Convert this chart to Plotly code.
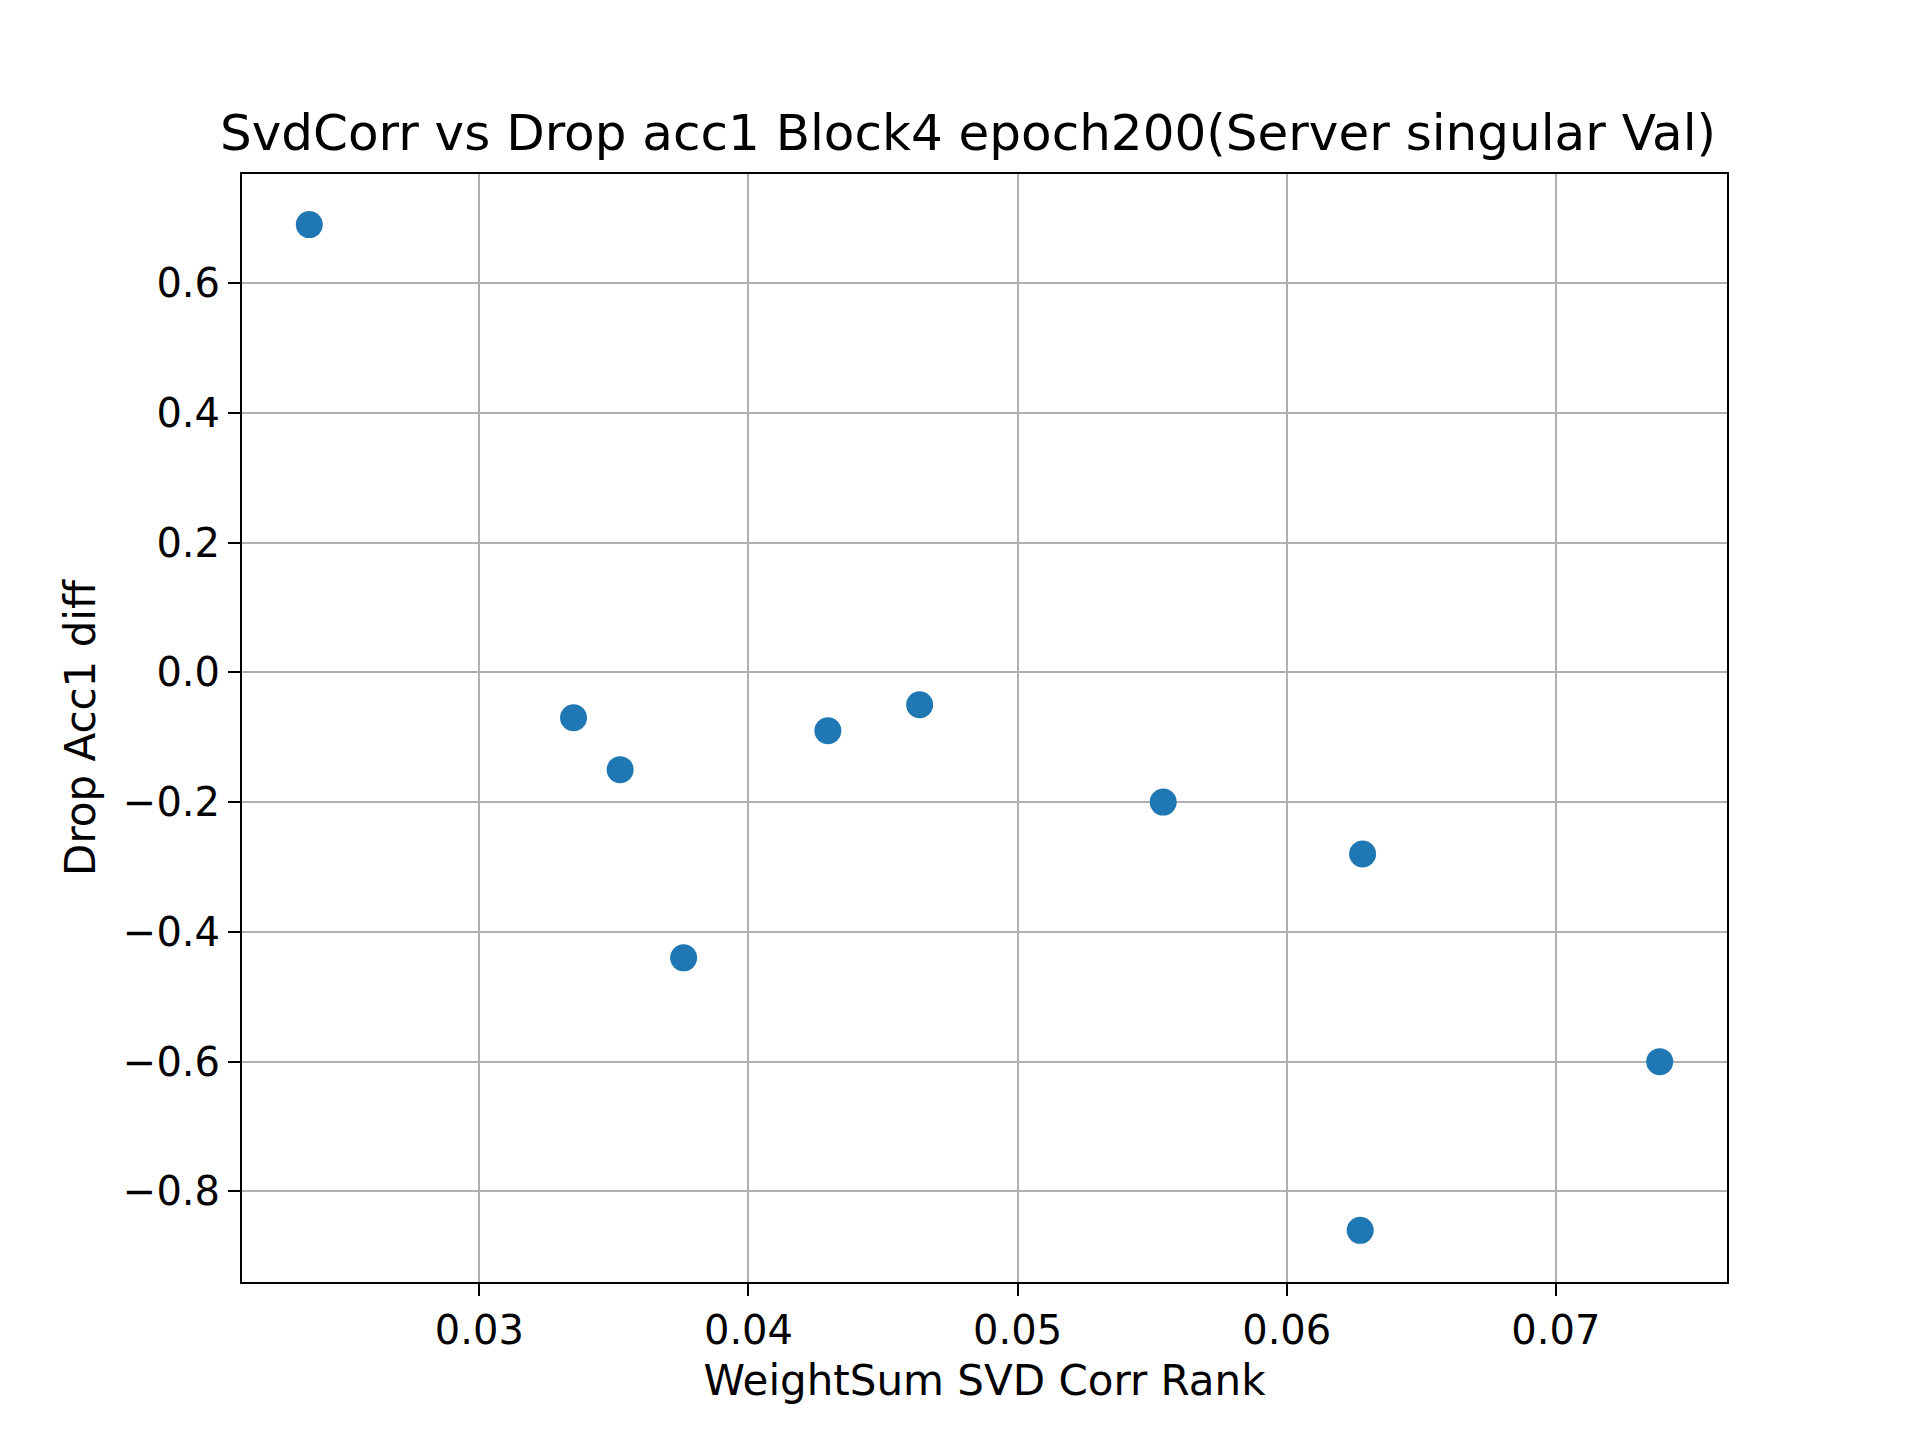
import plotly.graph_objects as go

# values
svd_corr_rank = [0.02368, 0.0335, 0.03523, 0.03759, 0.04295, 0.04636, 0.05541, 0.06282, 0.06273, 0.07386]
drop_acc1_diff = [0.69, -0.07, -0.15, -0.44, -0.09, -0.05, -0.20, -0.28, -0.86, -0.60]

x_ticks = [0.03, 0.04, 0.05, 0.06, 0.07]
y_ticks = [0.6, 0.4, 0.2, 0.0, -0.2, -0.4, -0.6, -0.8]
y_labels = ["0.6", "0.4", "0.2", "0.0", "\u22120.2", "\u22120.4", "\u22120.6", "\u22120.8"]

fig = go.Figure()
fig.add_trace(go.Scatter(
    x=svd_corr_rank, y=drop_acc1_diff, mode="markers",
    marker=dict(color="#1f77b4", size=27, line=dict(width=0)),
))

axis_common = dict(
    showgrid=True, gridcolor="#b0b0b0", gridwidth=2,
    showline=True, linecolor="black", linewidth=2, mirror=True,
    ticks="outside", ticklen=12, tickwidth=2, tickcolor="black",
    zeroline=False, tickfont=dict(size=40, color="black"),
)

fig.update_layout(
    width=1920, height=1440,
    paper_bgcolor="white", plot_bgcolor="white",
    font=dict(family="DejaVu Sans", color="black"),
    margin=dict(l=234, r=201, t=166, b=166),
    showlegend=False,
    title=dict(text="SvdCorr vs Drop acc1 Block4 epoch200(Server singular Val)",
               x=0.5, xanchor="center", y=1 - 124 / 1440, yanchor="middle",
               font=dict(size=50)),
    xaxis=dict(axis_common, range=[0.02118, 0.07636], tickvals=x_ticks,
               ticktext=[f"{v:.2f}" for v in x_ticks],
               title=dict(text="WeightSum SVD Corr Rank", font=dict(size=42), standoff=14)),
    yaxis=dict(axis_common, range=[-0.9396, 0.768], tickvals=y_ticks, ticktext=y_labels,
               title=dict(text="Drop Acc1 diff", font=dict(size=42), standoff=14)),
)

fig.write_html("out.html")
